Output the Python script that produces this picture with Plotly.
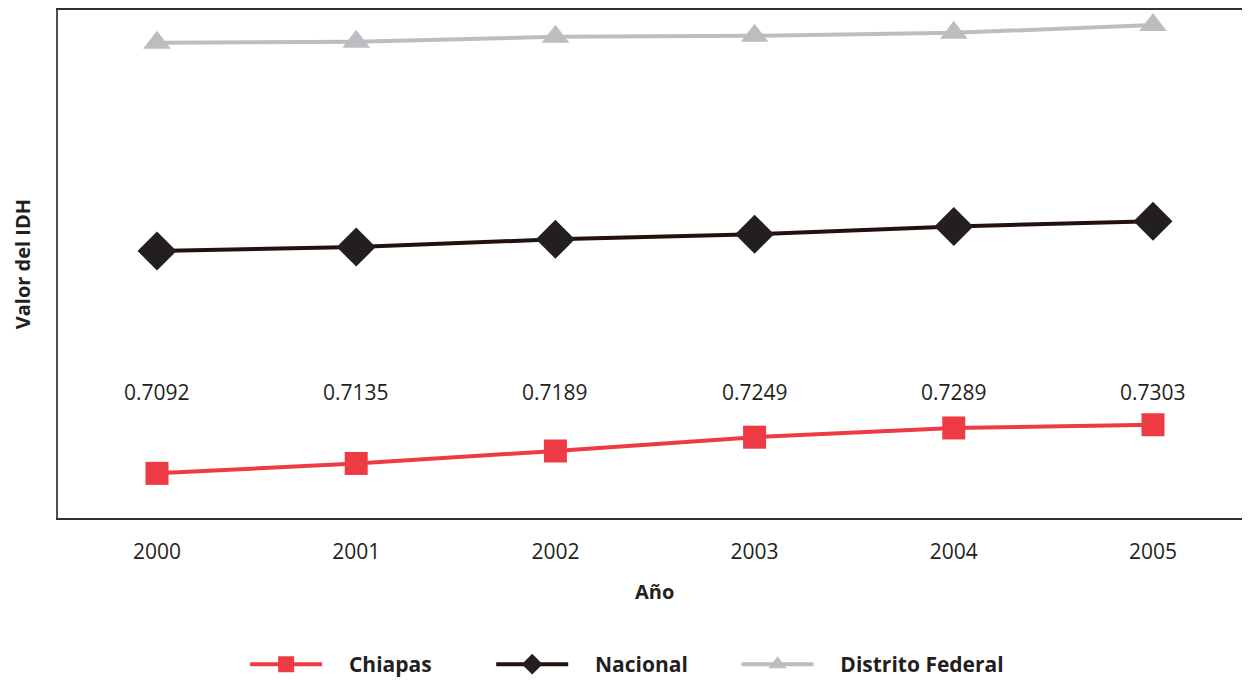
import plotly.graph_objects as go

years = [2000, 2001, 2002, 2003, 2004, 2005]
chiapas = [0.7092, 0.7135, 0.7189, 0.7249, 0.7289, 0.7303]
nacional = [0.8057, 0.8074, 0.8108, 0.8130, 0.8164, 0.8186]
distrito_federal = [0.8961, 0.8965, 0.8987, 0.8991, 0.9004, 0.9038]
chiapas_labels = ["0.7092", "0.7135", "0.7189", "0.7249", "0.7289", "0.7303"]
series_names = ["Chiapas", "Nacional", "Distrito Federal"]

FONT = "Open Sans"
TXT = "#231F20"
NB = "\u00a0"

fig = go.Figure()
fig.add_trace(go.Scatter(
    x=years, y=chiapas, name=NB * 4 + series_names[0] + NB * 10, mode="lines+markers",
    line=dict(color="#EE3A43", width=4),
    marker=dict(symbol="square", size=23, color="#EE3A43")))
fig.add_trace(go.Scatter(
    x=years, y=nacional, name=NB * 4 + series_names[1] + NB * 8, mode="lines+markers",
    line=dict(color="#23110D", width=4),
    marker=dict(symbol="diamond", size=30, color="#231F20")))
fig.add_trace(go.Scatter(
    x=years, y=distrito_federal, name=NB * 4 + series_names[2], mode="lines+markers",
    line=dict(color="#BCBDC0", width=4),
    marker=dict(symbol="triangle-up", size=24, color="#BCBDC0")))

for yr, lab in zip(years, chiapas_labels):
    fig.add_annotation(x=yr, y=0.248, xref="x", yref="paper", text=lab,
                       showarrow=False, yanchor="middle",
                       font=dict(family=FONT, size=21, color=TXT))

fig.add_annotation(x=0.5, y=-0.145, xref="paper", yref="paper", text="<b>Año</b>",
                   showarrow=False, yanchor="middle",
                   font=dict(family=FONT, size=20, color=TXT))
fig.add_annotation(x=-0.03, y=0.5, xref="paper", yref="paper", text="<b>Valor del IDH</b>",
                   showarrow=False, textangle=-90, xanchor="center", yanchor="middle",
                   font=dict(family=FONT, size=20, color=TXT))

fig.update_layout(
    width=1242, height=677,
    margin=dict(l=50, r=0, t=0, b=165),
    plot_bgcolor="white", paper_bgcolor="white",
    font=dict(family=FONT, size=20, color=TXT),
    showlegend=True,
    legend=dict(orientation="h", x=0.157, xanchor="left", y=-0.289, yanchor="middle",
                font=dict(family=FONT, size=21, color=TXT, weight="bold"),
                itemwidth=72, itemsizing="trace"),
    xaxis=dict(range=[1999.503, 2005.487], tickmode="array", tickvals=years,
               ticktext=[str(y) for y in years], showgrid=False, zeroline=False,
               showline=True, linecolor="#3a2e2e", linewidth=2, mirror=True,
               ticks="", ticklabelstandoff=14,
               tickfont=dict(family=FONT, size=21, color=TXT)),
    yaxis=dict(range=[0.68982, 0.91032], showticklabels=False, showgrid=False,
               zeroline=False, showline=True, linecolor="#5a4a4a", linewidth=2,
               ticks=""),
)

fig.write_html("out.html")
